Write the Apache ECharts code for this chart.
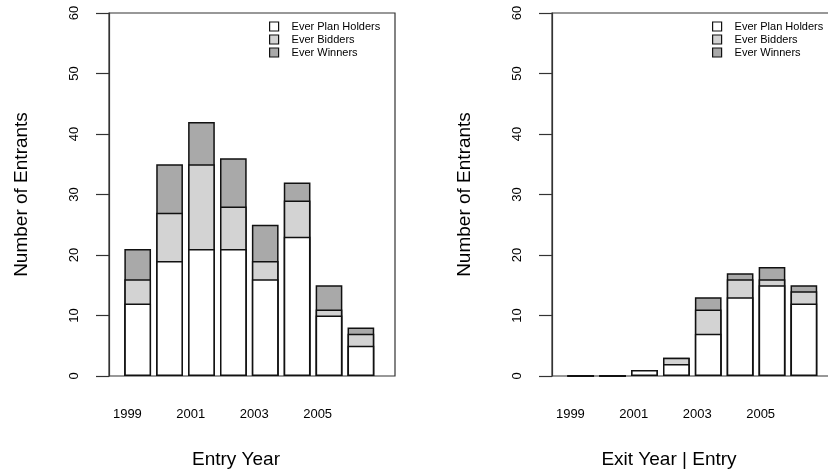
<!DOCTYPE html>
<html>
<head>
<meta charset="utf-8">
<script src="https://cdn.jsdelivr.net/npm/echarts@6/dist/echarts.min.js"></script>
<style>
  html, body { margin: 0; padding: 0; background: #fff; }
  #main { width: 828px; height: 473px; }
</style>
</head>
<body>
<div id="main"></div>
<script>
// 年份与刻度标签
var years = [1999, 2000, 2001, 2002, 2003, 2004, 2005, 2006];
var tickYears = [1999, 2001, 2003, 2005];
var seriesNames = ['Ever Plan Holders', 'Ever Bidders', 'Ever Winners'];

// 左图: Entry Year (累计高度)
var entryHolders = [12, 19, 21, 21, 16, 23, 10, 5];
var entryBidders = [16, 27, 35, 28, 19, 29, 11, 7];
var entryWinners = [21, 35, 42, 36, 25, 32, 15, 8];

// 右图: Exit Year | Entry
var exitHolders = [0, 0, 1, 2, 7, 13, 15, 12];
var exitBidders = [0, 0, 1, 3, 11, 16, 16, 14];
var exitWinners = [0, 0, 1, 3, 13, 17, 18, 15];

var FONT = 'Liberation Sans, Arial, sans-serif';
var colors = { 'Ever Plan Holders': '#ffffff', 'Ever Bidders': '#d3d3d3', 'Ever Winners': '#a9a9a9' };

function pairs(arr) {
    return years.map(function (y, i) { return [y, arr[i]]; });
}

function barSeries(name, arr, gi) {
    return {
        name: name,
        type: 'bar',
        xAxisIndex: gi * 2,
        yAxisIndex: gi,
        barWidth: 26.7,
        barGap: '-100%',
        itemStyle: { color: colors[name], borderColor: '#111', borderWidth: 1.5 },
        emphasis: { disabled: true },
        data: pairs(arr)
    };
}

function yAxisFor(gi) {
    return {
        type: 'value', gridIndex: gi, min: 0, max: 60, interval: 10,
        name: 'Number of Entrants', nameLocation: 'middle', nameGap: 78,
        nameTextStyle: { fontSize: 19, color: '#000', fontFamily: FONT },
        axisLine: { show: true, lineStyle: { color: '#333', width: 1.2 } },
        axisTick: { show: true, length: 13, lineStyle: { color: '#333', width: 1.2 } },
        axisLabel: { rotate: 90, margin: 28, fontSize: 13, color: '#000', fontFamily: FONT },
        splitLine: { show: false }
    };
}

function barAxisFor(gi) {
    return {
        type: 'value', gridIndex: gi, min: 1998.1, max: 2007.07,
        axisLine: { show: false }, axisTick: { show: false },
        axisLabel: { show: false }, splitLine: { show: false }
    };
}

function labelAxisFor(gi) {
    return {
        type: 'value', gridIndex: gi, min: 1998.42, max: 2007.44, position: 'bottom',
        axisLine: { show: false }, axisTick: { show: false },
        axisLabel: { customValues: tickYears, margin: 32, fontSize: 13, color: '#000', fontFamily: FONT,
            formatter: function (v) { return String(v); } },
        splitLine: { show: false }
    };
}

function legendFor(left) {
    return {
        orient: 'vertical', left: left, top: 16,
        itemWidth: 9, itemHeight: 9, itemGap: 2, icon: 'rect',
        data: seriesNames,
        selectedMode: false,
        itemStyle: { borderColor: '#111', borderWidth: 1.2 },
        textStyle: { fontSize: 11, color: '#000', fontFamily: FONT, padding: [0, 0, 0, 8] }
    };
}

var myChart = echarts.init(document.getElementById('main'));
var option = {
    animation: false,
    title: [
        { text: 'Entry Year', left: 231, top: 445, textAlign: 'center',
          textStyle: { fontSize: 19, fontWeight: 'normal', color: '#000', fontFamily: FONT } },
        { text: 'Exit Year | Entry', left: 664, top: 445, textAlign: 'center',
          textStyle: { fontSize: 19, fontWeight: 'normal', color: '#000', fontFamily: FONT } }
    ],
    legend: [legendFor(264), legendFor(707)],
    grid: [
        { left: 109, top: 13, width: 286, height: 363, show: true, borderColor: '#333', borderWidth: 1.2,
          outerBoundsMode: 'none' },
        { left: 552, top: 13, width: 286, height: 363, show: true, borderColor: '#333', borderWidth: 1.2,
          outerBoundsMode: 'none' }
    ],
    xAxis: [barAxisFor(0), labelAxisFor(0), barAxisFor(1), labelAxisFor(1)],
    yAxis: [yAxisFor(0), yAxisFor(1)],
    series: [
        // 后画的盖在上面: Winners -> Bidders -> Plan Holders
        barSeries('Ever Winners', entryWinners, 0),
        barSeries('Ever Bidders', entryBidders, 0),
        barSeries('Ever Plan Holders', entryHolders, 0),
        barSeries('Ever Winners', exitWinners, 1),
        barSeries('Ever Bidders', exitBidders, 1),
        barSeries('Ever Plan Holders', exitHolders, 1)
    ]
};
myChart.setOption(option);
</script>
</body>
</html>
